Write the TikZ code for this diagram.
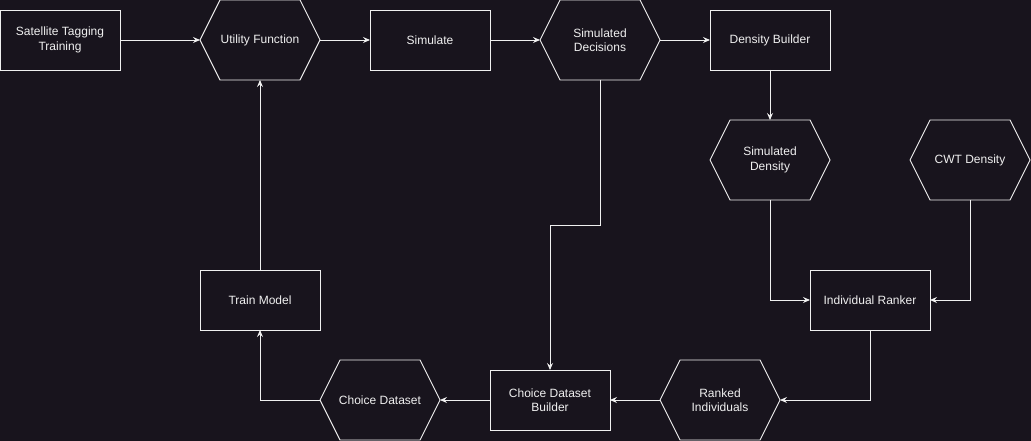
\documentclass[tikz,border=0pt]{standalone}
\usepackage{fontspec}
\setmainfont{Liberation Sans}
\usetikzlibrary{arrows.meta}
\definecolor{bgc}{HTML}{18141D}
\definecolor{fg}{HTML}{F0F0F0}
\begin{document}
\begin{tikzpicture}[x=1pt,y=-1pt,
  base/.style={inner sep=0pt,outer sep=0pt,align=center,text=fg,
    font=\fontsize{12}{14.4}\selectfont},
  rbox/.style={base,draw=fg,line width=0.9pt,fill=bgc,minimum width=120pt,minimum height=60pt},
  hexbox/.style={base,minimum width=120pt,minimum height=80pt},
  conn/.style={draw=fg,line width=0.9pt,-{Stealth[length=7pt,width=6pt,inset=2.5pt]}}
]
\fill[bgc] (0,0) rectangle (1031,441);
\useasboundingbox (0,0) rectangle (1031,441);

\node[rbox] (sat) at (60,40) {Satellite Tagging\\Training};
\node[hexbox] (uf) at (260,40) {Utility Function};
\node[rbox] (sim) at (430,40) {Simulate};
\node[hexbox] (sd) at (600,40) {Simulated\\Decisions};
\node[rbox] (db) at (770,40) {Density Builder};
\node[hexbox] (sden) at (770,160) {Simulated\\Density};
\node[hexbox] (cwt) at (970,160) {CWT Density};
\node[rbox] (ir) at (870,300) {Individual Ranker};
\node[rbox] (tm) at (260,300) {Train Model};
\node[hexbox] (cd) at (380,400) {Choice Dataset};
\node[rbox] (cdb) at (550,400) {Choice Dataset\\Builder};
\node[hexbox] (ri) at (720,400) {Ranked\\Individuals};

\foreach \n in {uf,sd,sden,cwt,cd,ri}
  \draw[fg,line width=0.9pt,line join=miter] (\n.west) -- ([xshift=20pt]\n.north west) -- ([xshift=-20pt]\n.north east)
    -- (\n.east) -- ([xshift=-20pt]\n.south east) -- ([xshift=20pt]\n.south west) -- cycle;

\coordinate (k1) at (600,225);
\coordinate (k2) at (550,225);

\draw[conn] (sat.east) -- (uf.west);
\draw[conn] (uf.east) -- (sim.west);
\draw[conn] (sim.east) -- (sd.west);
\draw[conn] (sd.east) -- (db.west);
\draw[conn] (db.south) -- (sden.north);
\draw[conn] (sden.south) |- (ir.west);
\draw[conn] (cwt.south) |- (ir.east);
\draw[conn] (ir.south) |- (ri.east);
\draw[conn] (ri.west) -- (cdb.east);
\draw[conn] (cdb.west) -- (cd.west -| cd.east);
\draw[conn] (cd.west) -| (tm.south);
\draw[conn] (tm.north) -- (uf.south);
\draw[conn] (sd.south) -- (k1) -- (k2) -- (cdb.north);
\end{tikzpicture}
\end{document}
